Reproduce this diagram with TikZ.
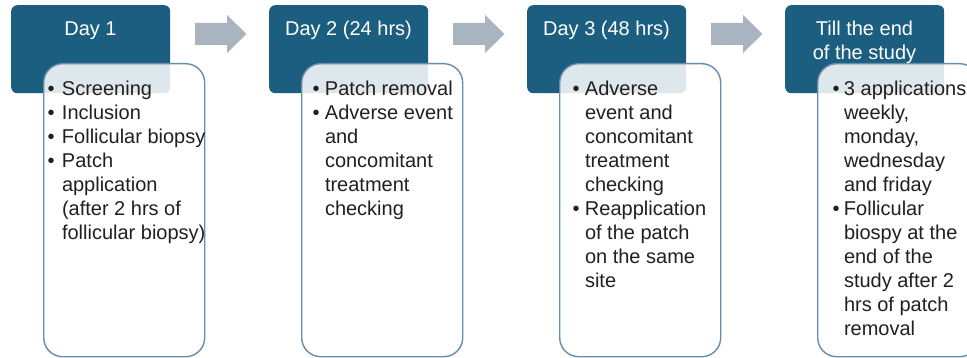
\documentclass[tikz,border=0pt]{standalone}
\usepackage{fontspec}
\setmainfont{Liberation Sans}
\definecolor{hdr}{RGB}{28,94,128}
\definecolor{bdr}{RGB}{104,140,170}
\definecolor{arr}{RGB}{168,180,191}
\definecolor{txt}{RGB}{35,31,32}
\newcommand{\mybul}[1]{\makebox[#1][l]{•}}
\newcommand{\myind}[1]{\hspace*{#1}}
\begin{document}
\begin{tikzpicture}[x=1pt,y=-1pt,
  hdrbox/.style={fill=hdr, rounded corners=6pt, minimum width=159pt, minimum height=88pt, anchor=north west, inner sep=0pt},
  bodybox/.style={draw=bdr, line width=1.4pt, fill=white, fill opacity=0.85, rounded corners=19pt, minimum width=161pt, minimum height=293pt, anchor=north west, inner sep=0pt},
  hdrtext/.style={text=white, font=\fontsize{20}{24}\selectfont, align=center, inner sep=0pt, anchor=north},
  bodytext/.style={text=txt, font=\fontsize{20}{24}\selectfont, align=left, inner sep=0pt, anchor=north west},
  blockarrow/.style={fill=arr}]
\useasboundingbox (0,0) rectangle (967,358);
\clip (0,0) rectangle (967,358);

% headers
\node[hdrbox] (h1) at (11,5) {};
\node[hdrbox] (h2) at (269,5) {};
\node[hdrbox] (h3) at (527,5) {};
\node[hdrbox] (h4) at (785,5) {};

% body boxes
\node[bodybox] (b1) at (43,63) {};
\node[bodybox] (b2) at (301,63) {};
\node[bodybox] (b3) at (559,63) {};
\node[bodybox] (b4) at (817,63) {};

% header texts
\node[hdrtext] (t1) at (90.5,18.2) {\strut Day 1};
\node[hdrtext] (t2) at (348.5,18.2) {\strut Day 2 (24 hrs)};
\node[hdrtext] (t3) at (606.5,18.2) {\strut Day 3 (48 hrs)};
\node[hdrtext] (t4) at (864.5,18.2) {\strut Till the end\\of the study};

% body texts
\node[bodytext] (c1) at (47.3,78.2) {\strut\mybul{14.5pt}Screening\\
\mybul{14.5pt}Inclusion\\
\mybul{14.5pt}Follicular biopsy\\
\mybul{14.5pt}Patch\\
\myind{14.5pt}application\\
\myind{14.5pt}(after 2 hrs of\\
\myind{14.5pt}follicular biopsy)};

\node[bodytext] (c2) at (312.3,78.2) {\strut\mybul{12.5pt}Patch removal\\
\mybul{12.5pt}Adverse event\\
\myind{12.5pt}and\\
\myind{12.5pt}concomitant\\
\myind{12.5pt}treatment\\
\myind{12.5pt}checking};

\node[bodytext] (c3) at (572.3,78.2) {\strut\mybul{12.5pt}Adverse\\
\myind{12.5pt}event and\\
\myind{12.5pt}concomitant\\
\myind{12.5pt}treatment\\
\myind{12.5pt}checking\\
\mybul{12.5pt}Reapplication\\
\myind{12.5pt}of the patch\\
\myind{12.5pt}on the same\\
\myind{12.5pt}site};

\node[bodytext] (c4) at (832.3,78.2) {\strut\mybul{11.5pt}3 applications\\
\myind{11.5pt}weekly,\\
\myind{11.5pt}monday,\\
\myind{11.5pt}wednesday\\
\myind{11.5pt}and friday\\
\mybul{11.5pt}Follicular\\
\myind{11.5pt}biospy at the\\
\myind{11.5pt}end of the\\
\myind{11.5pt}study after 2\\
\myind{11.5pt}hrs of patch\\
\myind{11.5pt}removal};

% block arrows
\foreach \i in {0,1,2}{
  \begin{scope}[xshift=\i*258pt]
    \fill[blockarrow] (195,23) -- (227,23) -- (227,15) -- (246.5,34) -- (227,53) -- (227,45) -- (195,45) -- cycle;
  \end{scope}
}
\end{tikzpicture}
\end{document}
